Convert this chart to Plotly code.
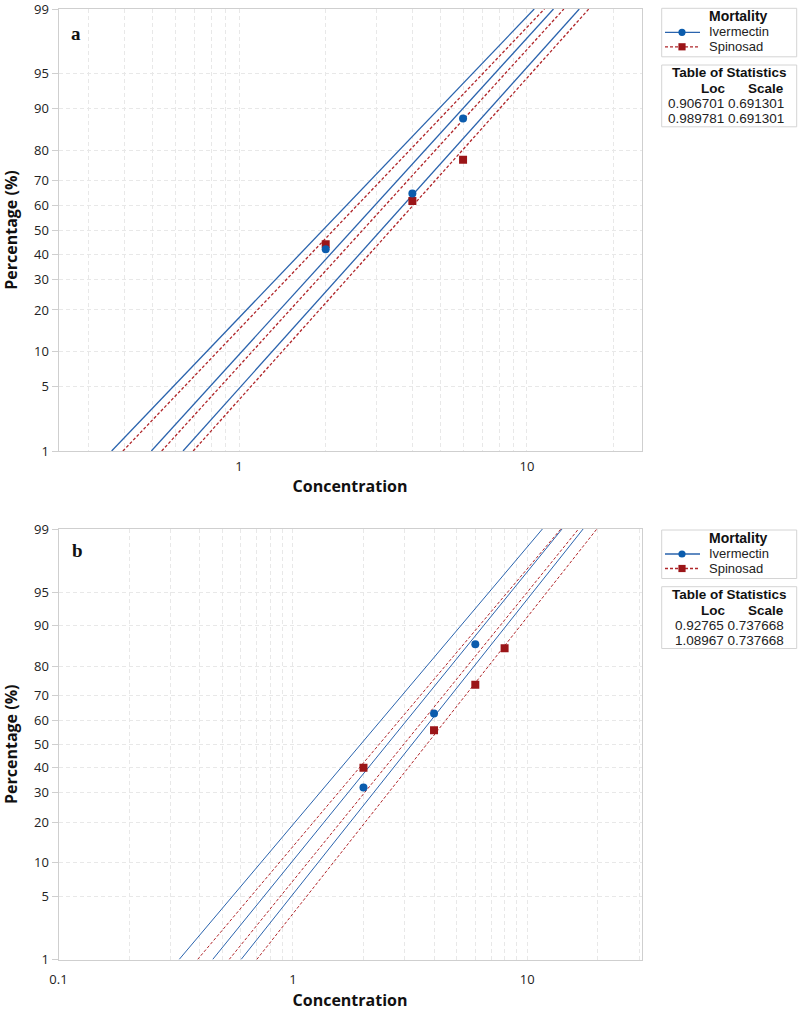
import math
from statistics import NormalDist
import plotly.graph_objects as go

# ---------------- data ----------------
pct_ticks = [1, 5, 10, 20, 30, 40, 50, 60, 70, 80, 90, 95, 99]

# panel a
conc_a_iver = [2, 4, 6]
mort_a_iver = [42, 65, 88]
conc_a_spin = [2, 4, 6]
mort_a_spin = [44, 62, 77]
loc_a_iver = 0.906701
loc_a_spin = 0.989781
scale_a_iver = 0.691301
scale_a_spin = 0.691301
# confidence-band positions (concentration) at 1 % and 99 %
band_pct = [1, 99]
band_a_iver_lo = [0.361, 10.6]
band_a_iver_hi = [0.639, 15.2]
band_a_spin_lo = [0.395, 11.5]
band_a_spin_hi = [0.693, 16.4]

# panel b
conc_b_iver = [2, 4, 6]
mort_b_iver = [32, 63, 86]
conc_b_spin = [2, 4, 6, 8]
mort_b_spin = [40, 56, 74, 85]
loc_b_iver = 0.92765
loc_b_spin = 1.08967
scale_b_iver = 0.737668
scale_b_spin = 0.737668
band_b_iver_lo = [0.327, 11.6]
band_b_iver_hi = [0.601, 17.3]
band_b_spin_lo = [0.392, 13.9]
band_b_spin_hi = [0.701, 19.8]

xtick_a = [0.3, 0.4, 0.5, 0.6, 0.7, 0.8, 0.9, 1, 2, 3, 4, 5, 6, 7, 8, 9, 10, 20]
xtick_b = [0.1, 0.2, 0.3, 0.4, 0.5, 0.6, 0.7, 0.8, 0.9, 1, 2, 3, 4, 5, 6, 7, 8, 9, 10, 20, 30]
xlabels = {0.1: "0.1", 1: "1", 10: "10"}

series_names = ["Ivermectin", "Spinosad"]
stats_a = [("0.906701", "0.691301"), ("0.989781", "0.691301")]
stats_b = [("0.92765", "0.737668"), ("1.08967", "0.737668")]

# ---------------- styling ----------------
W, H = 798, 1019
FONT = "Open Sans"
TFONT = "Liberation Sans"
BLUE_L = "#2a63ad"
BLUE_M = "#0b5cad"
RED_L = "#b0262a"
RED_M = "#9b1518"
GRID = "#e8e8e8"
AXIS = "#cfcfcf"

nd = NormalDist()


def z(p):
    return nd.inv_cdf(p / 100.0)


def px(x):
    return x / W


def py(y):
    return 1 - y / H


fig = go.Figure()

# plot areas in pixels
PL, PR = 58.5, 641.5
A_T, A_B = 9.0, 451.0
B_T, B_B = 529.0, 959.5


def add_panel(xa, ya, conc_i, mort_i, conc_s, mort_s, loc_i, loc_s, sc_i, sc_s,
              bi_lo, bi_hi, bs_lo, bs_hi, lw):
    zs = [z(p) for p in band_pct]
    fig.add_trace(go.Scatter(x=[math.exp(loc_i + q * sc_i) for q in zs], y=zs, mode="lines",
                             line=dict(color=BLUE_L, width=lw), xaxis=xa, yaxis=ya,
                             showlegend=False, name=series_names[0]))
    fig.add_trace(go.Scatter(x=[math.exp(loc_s + q * sc_s) for q in zs], y=zs, mode="lines",
                             line=dict(color=RED_L, width=lw, dash="3px,2px"), xaxis=xa, yaxis=ya,
                             showlegend=False, name=series_names[1]))
    for b in (bi_lo, bi_hi):
        fig.add_trace(go.Scatter(x=b, y=zs, mode="lines", line=dict(color=BLUE_L, width=lw),
                                 xaxis=xa, yaxis=ya, showlegend=False, hoverinfo="skip"))
    for b in (bs_lo, bs_hi):
        fig.add_trace(go.Scatter(x=b, y=zs, mode="lines",
                                 line=dict(color=RED_L, width=lw, dash="3px,2px"),
                                 xaxis=xa, yaxis=ya, showlegend=False, hoverinfo="skip"))
    fig.add_trace(go.Scatter(x=conc_s, y=[z(p) for p in mort_s], mode="markers",
                             marker=dict(symbol="square", size=8, color=RED_M),
                             xaxis=xa, yaxis=ya, showlegend=False, name=series_names[1]))
    fig.add_trace(go.Scatter(x=conc_i, y=[z(p) for p in mort_i], mode="markers",
                             marker=dict(symbol="circle", size=8, color=BLUE_M),
                             xaxis=xa, yaxis=ya, showlegend=False, name=series_names[0]))


add_panel("x", "y", conc_a_iver, mort_a_iver, conc_a_spin, mort_a_spin,
          loc_a_iver, loc_a_spin, scale_a_iver, scale_a_spin,
          band_a_iver_lo, band_a_iver_hi, band_a_spin_lo, band_a_spin_hi, 1.3)
add_panel("x2", "y2", conc_b_iver, mort_b_iver, conc_b_spin, mort_b_spin,
          loc_b_iver, loc_b_spin, scale_b_iver, scale_b_spin,
          band_b_iver_lo, band_b_iver_hi, band_b_spin_lo, band_b_spin_hi, 1.0)

yt = [z(p) for p in pct_ticks]
yaxis_common = dict(
    tickvals=yt, ticktext=[str(p) for p in pct_ticks], range=[z(1), z(99)],
    showgrid=True, gridcolor=GRID, griddash="4px,3px", gridwidth=1,
    showline=True, linecolor=AXIS, linewidth=1, mirror=True,
    ticks="outside", ticklen=6, tickcolor=AXIS, ticklabeloverflow="allow",
    tickfont=dict(family=FONT, size=13, color="#222"),
    zeroline=False, automargin=False,
    title=dict(text="<b>Percentage (%)</b>", font=dict(family=FONT, size=16, color="#111"), standoff=14),
)


def xaxis_common(ticks, rng, lab_off):
    return dict(
        type="log", range=rng, tickvals=ticks,
        ticktext=[xlabels.get(t, "") for t in ticks],
        showgrid=True, gridcolor=GRID, griddash="4px,3px", gridwidth=1,
        showline=True, linecolor=AXIS, linewidth=1, mirror=True,
        ticks="", tickfont=dict(family=FONT, size=13, color="#222"),
        ticklabelstandoff=lab_off, ticklabeloverflow="allow",
        zeroline=False, automargin=False,
        title=dict(text="<b>Concentration</b>", font=dict(family=FONT, size=16, color="#111"), standoff=7),
    )


fig.update_layout(
    width=W, height=H, margin=dict(l=0, r=0, t=0, b=0, autoexpand=False),
    paper_bgcolor="white", plot_bgcolor="white", showlegend=False,
    xaxis=dict(domain=[px(PL), px(PR)], anchor="y",
               **xaxis_common(xtick_a, [math.log10(0.236), math.log10(25.0)], 3)),
    yaxis=dict(domain=[py(A_B), py(A_T)], anchor="x", **yaxis_common),
    xaxis2=dict(domain=[px(PL), px(PR)], anchor="y2",
                **xaxis_common(xtick_b, [-1.0, math.log10(30.7)], 8)),
    yaxis2=dict(domain=[py(B_B), py(B_T)], anchor="x2", **yaxis_common),
)

shapes = []
annos = []


def text(t, x, y, size, xanchor="center", color="#222", family=TFONT):
    annos.append(dict(text=t, x=px(x), y=py(y), xref="paper", yref="paper",
                      xanchor=xanchor, yanchor="middle", showarrow=False,
                      font=dict(family=family, size=size, color=color)))


def legend_block(T, stats):
    L, R = 661.7, 796.7
    # legend box
    shapes.append(dict(type="rect", xref="paper", yref="paper", x0=px(L), x1=px(R),
                       y0=py(T + 49.5), y1=py(T + 1), line=dict(color="#d4d4d4", width=1),
                       fillcolor="white", layer="above"))
    text("<b>Mortality</b>", 738, T + 9, 14, color="#111")
    row_y = [T + 25, T + 39.5]
    for name, yy, col, mcol, dash, sym in ((series_names[0], row_y[0], BLUE_L, BLUE_M, "solid", "circle"),
                                          (series_names[1], row_y[1], RED_L, RED_M, "3px,2px", "square")):
        shapes.append(dict(type="line", xref="paper", yref="paper", x0=px(665), x1=px(700),
                           y0=py(yy), y1=py(yy), line=dict(color=col, width=1.3, dash=dash)))
        r = 3.6
        shapes.append(dict(type="circle" if sym == "circle" else "rect", xref="paper", yref="paper",
                           x0=px(682 - r), x1=px(682 + r), y0=py(yy + r), y1=py(yy - r),
                           line=dict(color=mcol, width=0), fillcolor=mcol))
        text(name, 707, yy - 0.5, 13, xanchor="left")
    # statistics table
    shapes.append(dict(type="rect", xref="paper", yref="paper", x0=px(L), x1=px(R),
                       y0=py(T + 119.5), y1=py(T + 57.7), line=dict(color="#d4d4d4", width=1),
                       fillcolor="white", layer="above"))
    text("<b>Table of Statistics</b>", 729, T + 65, 13.5, color="#111")
    text("<b>Loc</b>", 727, T + 81, 13.5, xanchor="right", color="#111")
    text("<b>Scale</b>", 786, T + 81, 13.5, xanchor="right", color="#111")
    for k, (c1, c2) in enumerate(stats):
        text(c1 + " " + c2, 786, T + 96.2 + 15.2 * k, 13.5, xanchor="right")


legend_block(7.3, stats_a)
legend_block(B_T, stats_b)

text("<b>a</b>", 76, 33, 19, color="#111", family="Liberation Serif")
text("<b>b</b>", 77, 550, 19, color="#111", family="Liberation Serif")

fig.update_layout(shapes=shapes, annotations=annos)
fig.write_html("out.html", config={"displayModeBar": False, "responsive": False},
               post_script="document.body.style.margin='0px';document.body.style.overflow='hidden';")
